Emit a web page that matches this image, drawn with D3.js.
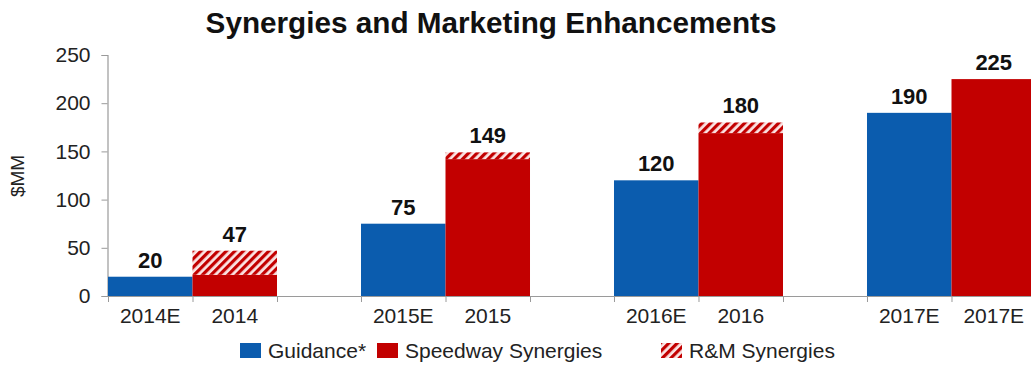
<!DOCTYPE html>
<html>
<head>
<meta charset="utf-8">
<script src="https://cdn.jsdelivr.net/npm/d3@7"></script>
<style>
  html, body { margin: 0; padding: 0; background: #fff; }
  svg { display: block; font-family: "Liberation Sans", Arial, sans-serif; }
</style>
</head>
<body>
<svg id="chart" width="1031" height="366"></svg>
<script>
// Years and the two bars in each year
const groups = ["2014", "2015", "2016", "2017"];
const guidanceLabels = ["2014E", "2015E", "2016E", "2017E"];
const actualLabels = ["2014", "2015", "2016", "2017E"];

// $MM values
const guidance = [20, 75, 120, 190];
const speedway = [22, 142, 169, 225];
const rmSynergies = [25, 7, 11, 0];

const yTicks = [0, 50, 100, 150, 200, 250];
const legendItems = ["Guidance*", "Speedway Synergies", "R&M Synergies"];

const blue = "#0b5cae";
const red = "#c20000";

const svg = d3.select("#chart");

// Diagonal hatch for the R&M segment
const defs = svg.append("defs");
const pat = defs.append("pattern")
  .attr("id", "hatch")
  .attr("patternUnits", "userSpaceOnUse")
  .attr("width", 6).attr("height", 6)
  .attr("patternTransform", "rotate(45)");
pat.append("rect").attr("width", 6).attr("height", 6).attr("fill", "#fbe4e4");
pat.append("rect").attr("x", 0).attr("width", 3.2).attr("height", 6).attr("fill", red);

const x0 = d3.scaleBand()
  .domain(groups)
  .range([108, 1036])
  .paddingInner(0.332)
  .paddingOuter(0);
const x1 = d3.scaleBand()
  .domain(["guidance", "actual"])
  .range([0, x0.bandwidth()])
  .padding(0);
const y = d3.scaleLinear().domain([0, 250]).range([296, 55]);

// Title
svg.append("text")
  .attr("x", 491).attr("y", 33)
  .attr("text-anchor", "middle")
  .attr("font-size", 29.7).attr("font-weight", "bold")
  .attr("fill", "#111")
  .text("Synergies and Marketing Enhancements");

// Y axis
const yAxis = svg.append("g")
  .attr("transform", "translate(107.5,0)")
  .call(d3.axisLeft(y).tickValues(yTicks).tickSize(6).tickPadding(11));
yAxis.select(".domain").attr("stroke", "#9a9a9a").attr("stroke-width", 1.2);
yAxis.selectAll(".tick line").attr("stroke", "#9a9a9a");
yAxis.selectAll(".tick text")
  .attr("font-size", 21).attr("fill", "#222")
  .attr("font-family", "Liberation Sans, Arial, sans-serif");

svg.append("text")
  .attr("transform", "translate(24,176) rotate(-90)")
  .attr("text-anchor", "middle")
  .attr("font-size", 19).attr("fill", "#222")
  .text("$MM");

// Bars
const g = svg.append("g");
groups.forEach((grp, i) => {
  const gx = x0(grp);
  const bw = x1.bandwidth();
  // Guidance
  g.append("rect")
    .attr("x", gx + x1("guidance")).attr("width", bw)
    .attr("y", y(guidance[i])).attr("height", y(0) - y(guidance[i]))
    .attr("fill", blue);
  // Speedway synergies
  g.append("rect")
    .attr("x", gx + x1("actual")).attr("width", bw)
    .attr("y", y(speedway[i])).attr("height", y(0) - y(speedway[i]))
    .attr("fill", red);
  // R&M synergies stacked on top
  const total = speedway[i] + rmSynergies[i];
  if (rmSynergies[i] > 0) {
    g.append("rect")
      .attr("x", gx + x1("actual")).attr("width", bw)
      .attr("y", y(total)).attr("height", y(speedway[i]) - y(total))
      .attr("fill", "url(#hatch)");
  }
  // Value labels
  g.append("text")
    .attr("x", gx + x1("guidance") + bw / 2).attr("y", y(guidance[i]) - 9)
    .attr("text-anchor", "middle").attr("font-size", 22).attr("font-weight", "bold")
    .attr("fill", "#111").text(guidance[i]);
  g.append("text")
    .attr("x", gx + x1("actual") + bw / 2).attr("y", y(total) - 9)
    .attr("text-anchor", "middle").attr("font-size", 22).attr("font-weight", "bold")
    .attr("fill", "#111").text(total);
});

// X axis line with ticks at bar edges
const axisG = svg.append("g");
axisG.append("line")
  .attr("x1", 107).attr("x2", 1031)
  .attr("y1", y(0) + 0.5).attr("y2", y(0) + 0.5)
  .attr("stroke", "#9a9a9a").attr("stroke-width", 1.2);
const edges = [];
groups.forEach(grp => {
  const gx = x0(grp);
  edges.push(gx, gx + x1.bandwidth(), gx + x0.bandwidth());
});
axisG.selectAll("line.tk").data(edges).join("line")
  .attr("class", "tk")
  .attr("x1", d => d + 0.5).attr("x2", d => d + 0.5)
  .attr("y1", y(0)).attr("y2", y(0) + 6)
  .attr("stroke", "#9a9a9a");

// Category labels
groups.forEach((grp, i) => {
  const gx = x0(grp);
  const bw = x1.bandwidth();
  [[guidanceLabels[i], "guidance"], [actualLabels[i], "actual"]].forEach(([lab, k]) => {
    svg.append("text")
      .attr("x", gx + x1(k) + bw / 2).attr("y", 323)
      .attr("text-anchor", "middle").attr("font-size", 21).attr("fill", "#222")
      .text(lab);
  });
});

// Legend
const legendX = [240, 377, 661];
const legendFill = [blue, red, "url(#hatch)"];
const lg = svg.append("g");
legendItems.forEach((name, i) => {
  lg.append("rect")
    .attr("x", legendX[i]).attr("y", 343)
    .attr("width", 21).attr("height", 15)
    .attr("fill", legendFill[i]);
  lg.append("text")
    .attr("x", legendX[i] + 28).attr("y", 358)
    .attr("font-size", 21).attr("fill", "#222")
    .text(name);
});
</script>
</body>
</html>
